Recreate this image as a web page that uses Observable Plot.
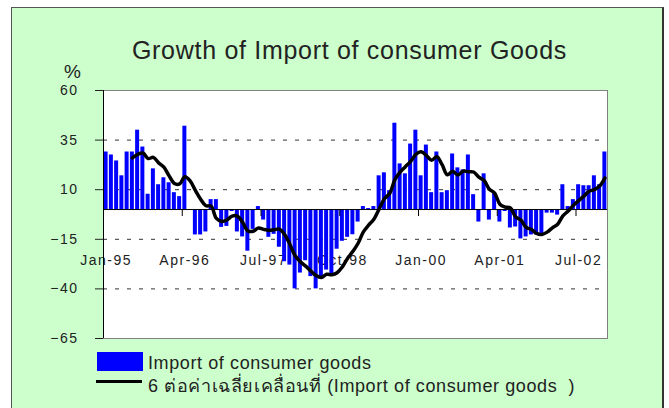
<!DOCTYPE html>
<html><head><meta charset="utf-8">
<script src="https://cdn.jsdelivr.net/npm/d3@7"></script>
<script src="https://cdn.jsdelivr.net/npm/@observablehq/plot@0.6"></script>
<style>
body{margin:0;background:#fff;}
#wrap{position:relative;width:669px;height:408px;overflow:hidden;background:#fff;font-family:"Liberation Sans",Arial,sans-serif;color:#222;}
#panel{position:absolute;left:11px;top:7px;width:650px;height:420px;background:#CCFFCC;border-left:1px solid #555;border-top:1px solid #555;border-right:2px solid #333;}
#chart{position:absolute;left:0;top:0;}
#title{position:absolute;left:0;width:699px;top:38px;text-align:center;font-size:25px;line-height:25px;letter-spacing:0.7px;white-space:nowrap;}
#pct{position:absolute;left:64px;top:62px;font-size:19px;line-height:19px;}
.sw{position:absolute}
.lg{position:absolute;left:148px;font-size:18px;line-height:20px;letter-spacing:0.6px;white-space:pre}
</style></head>
<body><div id="wrap">
<div id="panel"></div>
<div id="chart"></div>
<div id="title"></div>
<div id="pct">%</div>
<div class="sw" style="left:97px;top:352px;width:46px;height:19px;background:#0000FF"></div>
<div class="sw" style="left:96px;top:380px;width:46px;height:3px;background:#000"></div>
<div class="lg" id="lg1" style="top:353px"></div>
<div class="lg" id="lg2" style="top:376px"></div>
</div>
<script>
const titleText = "Growth of Import of consumer Goods";
const seriesNames = ["Import of consumer goods", "6 ต่อค่าเฉลี่ยเคลื่อนที่ (Import of consumer goods  )"];
const growth = [
  29, 27.5, 24.5, 17, 29, 29, 40, 31.5, 7.7, 20.5, 12.5, 16,
  13.5, 8.5, 6.5, 42, 0, -12.8, -12.8, -11.3, 5, 5, -9, -8.5,
  -1, -11.3, -13.8, -21, -10, 1.5, -5.3, -14, -12.5, -19, -26.3, -28,
  -40, -32, -25.8, -33.8, -40, -33.8, -30.5, -33, -20, -16, -14, -12.7,
  -6.3, 1.5, 0.5, 1.5, 17, 18.5, 9.5, 43.5, 23, 18, 33, 40,
  17, 32.5, 8.5, 29, 8.5, 9.5, 28, 21, 20, 27.5, 7.5, -6.3,
  18, -5.3, 8.5, -6.3, -1, -9.3, -8.8, -14.8, -13.8, -12.8, -12.8, -12.3,
  -1.8, -1.8, -2.8, 12.5, 1.5, 5, 12.5, 12, 12, 17, 12.5, 29
];
const xTickLabels = ["Jan-95", "Apr-96", "Jul-97", "Oct-98", "Jan-00", "Apr-01", "Jul-02"];
const yTicks = [60, 35, 10, -15, -40, -65];
const gridLevels = [35, 10, -15, -40];

document.getElementById("title").textContent = titleText;
document.getElementById("lg1").textContent = seriesNames[0];
document.getElementById("lg2").textContent = seriesNames[1];

const fmt = d3.utcFormat("%b-%y");
const months = d3.utcMonth.range(new Date(Date.UTC(1995, 0, 1)), new Date(Date.UTC(2003, 0, 1))).map(fmt);
const data = months.map((m, i) => ({month: m, value: growth[i]}));

const W = 669, H = 360, mL = 103, mR = 62, mT = 90, mB = 22;
const halfStep = (W - mL - mR) / months.length / 2;

const chart = Plot.plot({
  width: W, height: H,
  marginLeft: mL, marginRight: mR, marginTop: mT, marginBottom: mB,
  style: {background: "transparent", fontFamily: "'Liberation Sans', Arial, sans-serif", fontSize: "14px", color: "#222", letterSpacing: "1.5px", overflow: "visible"},
  x: {domain: months, paddingInner: 0.24, paddingOuter: 0.12, round: false, axis: null},
  y: {domain: [-65, 60], axis: null},
  marks: [
    Plot.frame({fill: "white", stroke: "#808080"}),
    Plot.ruleY(gridLevels, {stroke: "#333", strokeDasharray: "4,8"}),
    Plot.text(xTickLabels, {x: d => d, frameAnchor: "bottom", dy: -74, fill: "#222"}),
    Plot.barY(data, {x: "month", y: "value", fill: "#0000FF"}),
    Plot.ruleY([0], {stroke: "black"}),
    Plot.ruleX(xTickLabels, {x: d => d, y1: 0, y2: 0, insetBottom: -7, dx: -halfStep, stroke: "black"}),
    Plot.lineY(data, Plot.windowY({k: 6, anchor: "end", strict: true}, {x: "month", y: "value", stroke: "black", strokeWidth: 3.5, curve: "catmull-rom", strokeLinejoin: "round"})),
    Plot.ruleX([months[0]], {dx: -halfStep, stroke: "black"}),
    Plot.axisY({ticks: yTicks, anchor: "left", tickSize: 8, tickPadding: 17, label: null, fill: "#222"})
  ]
});
document.getElementById("chart").appendChild(chart);
</script>
</body></html>
